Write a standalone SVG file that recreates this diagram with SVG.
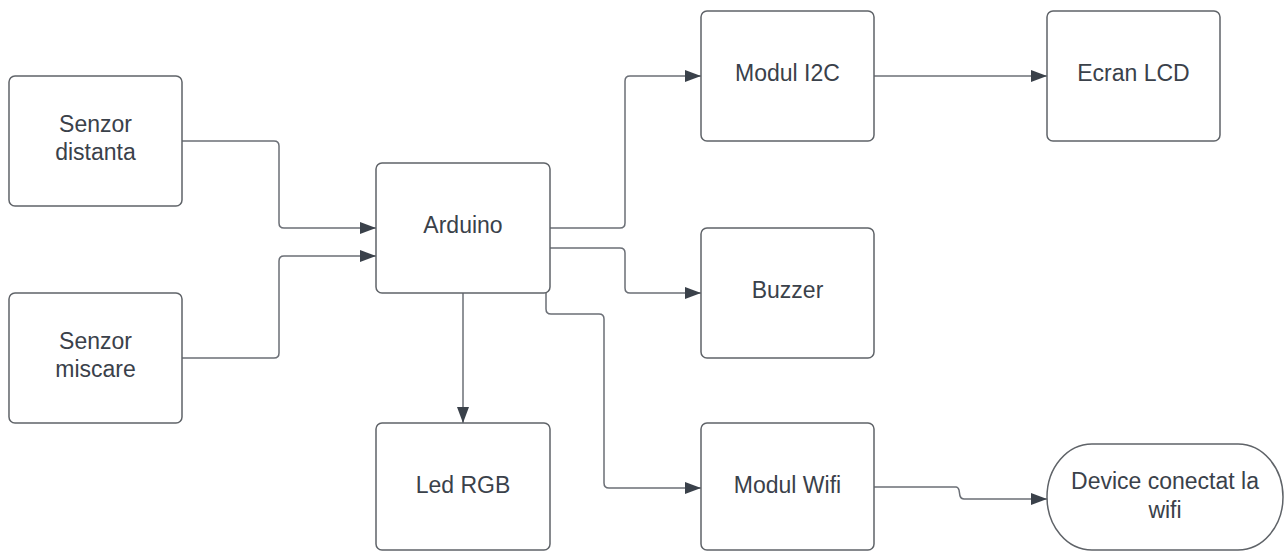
<svg xmlns="http://www.w3.org/2000/svg" width="1285" height="551" viewBox="0 0 1285 551">
<defs>
<style>
.box{fill:#ffffff;stroke:#5f6368;stroke-width:1.5}
.lbl{font-family:"Liberation Sans",Arial,sans-serif;font-size:23px;fill:#3a414a;text-anchor:middle}
.con{fill:none;stroke:#6b6f76;stroke-width:1.5}
</style>
<marker id="ah" viewBox="0 0 16 12" refX="16" refY="6" markerWidth="16" markerHeight="12" markerUnits="userSpaceOnUse" orient="auto">
<path d="M0,0 L16,6 L0,12 Z" fill="#3a414a"/>
</marker>
</defs>
<rect width="1285" height="551" fill="#ffffff"/>
<g id="connectors">
<path class="con" marker-end="url(#ah)" d="M182,141 H274 Q279,141 279,146 V223 Q279,228 284,228 H376"/>
<path class="con" marker-end="url(#ah)" d="M182,358 H274 Q279,358 279,353 V261 Q279,256 284,256 H376"/>
<path class="con" marker-end="url(#ah)" d="M550,228 H620 Q625,228 625,223 V81 Q625,76 630,76 H701"/>
<path class="con" marker-end="url(#ah)" d="M550,248 H620 Q625,248 625,253 V288 Q625,293 630,293 H701"/>
<path class="con" marker-end="url(#ah)" d="M546,293 V309 Q546,314 551,314 H599 Q604,314 604,319 V483 Q604,488 609,488 H701"/>
<path class="con" marker-end="url(#ah)" d="M463,293 V423"/>
<path class="con" marker-end="url(#ah)" d="M874,76 H1047"/>
<path class="con" marker-end="url(#ah)" d="M874,487 H956 Q958,487 959,490 L960,496 Q961,499 964,499 H1047"/>
</g>
<g id="senzor-distanta">
<rect class="box" x="9" y="76" width="173" height="130" rx="6"/>
<text class="lbl" x="95.5" y="132">Senzor</text>
<text class="lbl" x="95.5" y="160">distanta</text>
</g>
<g id="senzor-miscare">
<rect class="box" x="9" y="293" width="173" height="130" rx="6"/>
<text class="lbl" x="95.5" y="349">Senzor</text>
<text class="lbl" x="95.5" y="377">miscare</text>
</g>
<g id="arduino">
<rect class="box" x="376" y="163" width="174" height="130" rx="6"/>
<text class="lbl" x="463" y="233">Arduino</text>
</g>
<g id="modul-i2c">
<rect class="box" x="701" y="11" width="173" height="130" rx="6"/>
<text class="lbl" x="787.5" y="81">Modul I2C</text>
</g>
<g id="ecran-lcd">
<rect class="box" x="1047" y="11" width="173" height="130" rx="6"/>
<text class="lbl" x="1133.5" y="81">Ecran LCD</text>
</g>
<g id="buzzer">
<rect class="box" x="701" y="228" width="173" height="130" rx="6"/>
<text class="lbl" x="787.5" y="298">Buzzer</text>
</g>
<g id="led-rgb">
<rect class="box" x="376" y="423" width="174" height="127" rx="6"/>
<text class="lbl" x="463" y="493">Led RGB</text>
</g>
<g id="modul-wifi">
<rect class="box" x="701" y="423" width="173" height="127" rx="6"/>
<text class="lbl" x="787.5" y="493">Modul Wifi</text>
</g>
<g id="device-wifi">
<rect class="box" x="1047" y="444" width="236" height="106" rx="45" ry="53"/>
<text class="lbl" x="1165" y="489">Device conectat la</text>
<text class="lbl" x="1165" y="518">wifi</text>
</g>
</svg>
